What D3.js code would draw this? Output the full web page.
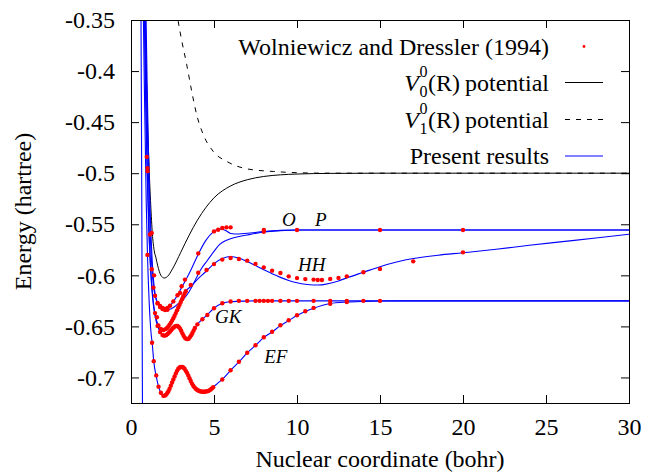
<!DOCTYPE html>
<html>
<head>
<meta charset="utf-8">
<script src="https://cdn.jsdelivr.net/npm/d3@7"></script>
<style>
  body { margin: 0; background: #fff; }
  text { font-family: "Liberation Serif", "Times New Roman", Times, "DejaVu Serif", serif; }
</style>
</head>
<body>
<div id="chart"></div>
<script>
// axis ticks
const xTicks = [0, 5, 10, 15, 20, 25, 30];
const yTicks = [-0.35, -0.4, -0.45, -0.5, -0.55, -0.6, -0.65, -0.7];

// V0^0(R) and V1^0(R) potentials  [R (bohr), E (hartree)]
const v0Curve = [[0.84,-0.34],[0.9,-0.385],[1.0,-0.4517],[1.1,-0.499],[1.2,-0.535],[1.3,-0.562],[1.4,-0.576],[1.5,-0.5826],[1.6,-0.59],[1.8,-0.6],[2.0,-0.6026],[2.2,-0.6011],[2.5,-0.5937],[3.0,-0.5774],[3.5,-0.5608],[4.0,-0.546],[4.5,-0.5338],[5.0,-0.5241],[6.0,-0.5125],[7.0,-0.5064],[8.0,-0.5032],[9.0,-0.5016],[10,-0.5008],[12,-0.5002],[15,-0.5],[30,-0.5]];
const v1Curve = [[2.75,-0.34],[2.85,-0.3517],[3.05,-0.3696],[3.36,-0.394],[3.66,-0.42],[3.96,-0.4429],[4.36,-0.4624],[4.96,-0.4788],[5.77,-0.4885],[6.97,-0.4957],[8.57,-0.4983],[10,-0.4995],[12,-0.5],[30,-0.5]];

// present results (blue lines)
const xLine = [[0.6,-0.34],[0.63,-0.45],[0.655,-0.55],[0.672,-0.65],[0.69,-0.73]];
const efLine = [[0.74,-0.34],[0.8,-0.41],[0.86,-0.47],[0.92,-0.53],[0.99,-0.578],[1.1,-0.628],[1.2,-0.655],[1.28,-0.667],[1.37,-0.684],[1.52,-0.699],[1.66,-0.709],[1.8,-0.715],[1.95,-0.718],[2.1,-0.717],[2.25,-0.7135],[2.4,-0.708],[2.55,-0.702],[2.7,-0.696],[2.85,-0.6915],[3.0,-0.6897],[3.15,-0.6903],[3.3,-0.6935],[3.45,-0.698],[3.6,-0.7035],[3.75,-0.708],[3.9,-0.711],[4.05,-0.7128],[4.2,-0.7137],[4.35,-0.714],[4.5,-0.7138],[4.65,-0.7132],[4.8,-0.7118],[4.95,-0.7095],[5.2,-0.706],[5.5,-0.7018],[6.0,-0.693],[6.5,-0.6848],[7.0,-0.676],[7.5,-0.6686],[8.0,-0.6608],[8.5,-0.6555],[9.0,-0.6492],[9.5,-0.6443],[10,-0.6394],[10.5,-0.6355],[11,-0.6322],[12,-0.6275],[13,-0.6261],[14,-0.6255],[15,-0.6252],[17,-0.625],[30,-0.625]];
const gkLine = [[0.8,-0.34],[0.86,-0.41],[0.92,-0.46],[0.97,-0.495],[1.05,-0.545],[1.15,-0.585],[1.3,-0.622],[1.45,-0.64],[1.6,-0.6495],[1.75,-0.6555],[1.9,-0.6585],[2.05,-0.659],[2.2,-0.6575],[2.35,-0.655],[2.5,-0.652],[2.65,-0.65],[2.8,-0.6495],[2.95,-0.652],[3.1,-0.657],[3.25,-0.6612],[3.4,-0.6625],[3.55,-0.6605],[3.7,-0.6565],[3.85,-0.6515],[4.0,-0.648],[4.3,-0.643],[4.6,-0.6385],[5.0,-0.6322],[5.5,-0.6274],[6.0,-0.6258],[7,-0.6252],[8,-0.625],[30,-0.625]];
const hhLine = [[0.82,-0.34],[0.88,-0.41],[0.95,-0.475],[1.0,-0.51],[1.1,-0.563],[1.2,-0.597],[1.35,-0.627],[1.5,-0.642],[1.65,-0.649],[1.8,-0.6525],[1.95,-0.6535],[2.1,-0.6525],[2.25,-0.65],[2.4,-0.6465],[2.55,-0.642],[2.7,-0.637],[2.85,-0.6315],[3.0,-0.626],[3.15,-0.6205],[3.3,-0.6155],[3.6,-0.611],[4.0,-0.604],[4.5,-0.5965],[5.0,-0.5885],[5.5,-0.5835],[6.0,-0.5815],[6.5,-0.583],[7.0,-0.5865],[7.5,-0.5905],[8.0,-0.5945],[8.5,-0.5985],[9.0,-0.602],[9.5,-0.605],[10,-0.6072],[10.5,-0.6088],[11,-0.6095],[11.5,-0.6093],[12,-0.6078],[12.5,-0.6055],[13,-0.6025],[14,-0.597],[15,-0.5915],[16,-0.587],[17,-0.5835],[18.5,-0.5803],[20,-0.5779],[22,-0.5745],[24,-0.5705],[26,-0.567],[28,-0.5635],[30,-0.5598]];
const oLine = [[0.86,-0.34],[0.93,-0.41],[1.0,-0.47],[1.08,-0.52],[1.15,-0.556],[1.25,-0.59],[1.35,-0.61],[1.45,-0.62],[1.6,-0.627],[1.8,-0.631],[2.0,-0.633],[2.2,-0.632],[2.4,-0.629],[2.6,-0.6245],[2.8,-0.6195],[3.0,-0.6135],[3.3,-0.6045],[3.6,-0.595],[4.0,-0.581],[4.5,-0.566],[4.96,-0.5575],[5.36,-0.5545],[5.7,-0.556],[6.0,-0.559],[6.5,-0.5595],[7,-0.5588],[8,-0.5572],[9,-0.556],[10,-0.5556],[30,-0.5556]];
const pLine = [[0.9,-0.34],[0.97,-0.41],[1.04,-0.47],[1.12,-0.52],[1.2,-0.558],[1.3,-0.592],[1.4,-0.612],[1.55,-0.625],[1.75,-0.631],[2.0,-0.634],[2.3,-0.6335],[2.6,-0.631],[2.9,-0.627],[3.2,-0.6225],[3.5,-0.616],[3.8,-0.607],[4.2,-0.5945],[4.6,-0.5855],[5.0,-0.5765],[5.36,-0.5695],[5.7,-0.566],[6.0,-0.5641],[7,-0.5605],[8,-0.5576],[9,-0.5562],[10,-0.5556],[30,-0.5556]];

// Wolniewicz and Dressler (1994) points
const efDots = [[0.99,-0.58],[1.27,-0.666],[1.37,-0.684],[1.52,-0.698],[1.66,-0.709],[1.8,-0.715],[1.95,-0.718],[2.025,-0.7178],[2.1,-0.717],[2.175,-0.7155],[2.25,-0.7135],[2.325,-0.711],[2.4,-0.708],[2.475,-0.705],[2.55,-0.702],[2.625,-0.699],[2.7,-0.696],[2.775,-0.6935],[2.85,-0.6915],[2.925,-0.6903],[3.0,-0.6897],[3.075,-0.6897],[3.15,-0.6903],[3.225,-0.6915],[3.3,-0.6935],[3.375,-0.6955],[3.45,-0.698],[3.525,-0.7008],[3.6,-0.7035],[3.675,-0.706],[3.75,-0.708],[3.825,-0.7097],[3.9,-0.711],[3.975,-0.712],[4.05,-0.7128],[4.125,-0.7133],[4.2,-0.7137],[4.275,-0.7139],[4.35,-0.714],[4.425,-0.714],[4.5,-0.7138],[4.575,-0.7136],[4.65,-0.7132],[4.725,-0.7126],[4.8,-0.7118],[4.875,-0.7107],[4.95,-0.7095],[5.5,-0.702],[6,-0.6929],[6.5,-0.6846],[7,-0.6758],[7.5,-0.6684],[8,-0.6606],[8.5,-0.6553],[9,-0.6489],[9.5,-0.644],[10,-0.6391],[10.5,-0.6352],[11,-0.6319],[12,-0.6278],[13,-0.6262]];
const gkDots = [[0.95,-0.484],[0.99,-0.495],[1.0,-0.498],[1.6,-0.6495],[1.75,-0.6555],[1.9,-0.6585],[1.975,-0.659],[2.05,-0.659],[2.125,-0.6585],[2.2,-0.6575],[2.275,-0.6563],[2.35,-0.655],[2.425,-0.6535],[2.5,-0.652],[2.575,-0.651],[2.65,-0.65],[2.725,-0.6495],[2.8,-0.6495],[2.875,-0.6505],[2.95,-0.652],[3.025,-0.6543],[3.1,-0.657],[3.175,-0.6593],[3.25,-0.6612],[3.325,-0.6622],[3.4,-0.6625],[3.475,-0.662],[3.55,-0.6605],[3.625,-0.6587],[3.7,-0.6565],[3.775,-0.654],[3.85,-0.6515],[4.0,-0.648],[4.3,-0.643],[4.6,-0.6389],[5.0,-0.6323],[5.5,-0.6274],[6.0,-0.6256],[6.5,-0.625],[7,-0.625],[7.5,-0.625],[7.75,-0.625],[8,-0.625],[8.25,-0.625],[8.5,-0.625],[9,-0.625],[9.5,-0.625],[10,-0.625],[11,-0.625],[12,-0.625],[13,-0.625],[14,-0.625],[15,-0.625]];
const hhDots = [[1.45,-0.637],[1.56,-0.641],[1.65,-0.649],[1.8,-0.6525],[1.95,-0.6535],[2.1,-0.6525],[2.175,-0.6515],[2.25,-0.65],[2.325,-0.6483],[2.4,-0.6465],[2.475,-0.6443],[2.55,-0.642],[2.625,-0.6395],[2.7,-0.637],[2.775,-0.6343],[2.85,-0.6315],[2.925,-0.6288],[3.0,-0.626],[3.075,-0.6233],[3.15,-0.6205],[3.225,-0.618],[3.3,-0.6155],[3.6,-0.6095],[4.55,-0.5948],[5.0,-0.589],[5.5,-0.5846],[6,-0.583],[6.5,-0.584],[7,-0.5856],[7.5,-0.5888],[8,-0.5922],[8.5,-0.5954],[9,-0.5977],[9.5,-0.601],[10,-0.6027],[10.5,-0.6037],[11,-0.6042],[11.25,-0.6045],[11.5,-0.6045],[12,-0.6035],[12.5,-0.6025],[13,-0.601],[14,-0.597],[15,-0.5937],[17,-0.5863],[20,-0.5775]];
const oDots = [[1.14,-0.56],[1.25,-0.594],[1.35,-0.612],[1.45,-0.62],[1.6,-0.627],[1.75,-0.630],[1.9,-0.632],[2.05,-0.633],[2.2,-0.632],[2.35,-0.6298],[2.55,-0.6255],[2.8,-0.6195],[2.95,-0.6172],[3.05,-0.6107],[3.25,-0.6042],[4.05,-0.5785],[5.0,-0.557],[5.25,-0.5553],[5.5,-0.5537],[5.75,-0.553],[6.0,-0.553],[8,-0.5556],[10,-0.5556],[15,-0.5556],[20,-0.5556]];
const pDots = [[1.25,-0.5586],[1.39,-0.6],[1.6,-0.6275],[1.75,-0.631],[1.9,-0.633],[2.05,-0.634],[2.2,-0.6338],[4.05,-0.5975],[8,-0.5574]];

// state labels  [name, R, E]
const stateLabels = [["O", 9.51, -0.5521], ["P", 11.43, -0.5521], ["HH", 10.89, -0.596], ["GK", 5.86, -0.6465], ["EF", 8.72, -0.6863]];

const legendLabels = ["Wolniewicz and Dressler (1994)", "potential", "potential", "Present results"];

function renderChart() {

    const margin = {top: 20, right: 19, bottom: 71, left: 131},
        width = 648 - margin.left - margin.right,
        height = 474 - margin.top - margin.bottom;

    const svg = d3.select("#chart").append("svg")
        .attr("width", 648)
        .attr("height", 474);

    const g = svg.append("g")
        .attr("transform", "translate(" + margin.left + "," + margin.top + ")");

    const x = d3.scaleLinear().domain([0, 30]).range([0, width]);
    const y = d3.scaleLinear().domain([-0.725, -0.35]).range([height, 0]);

    svg.append("defs").append("clipPath")
        .attr("id", "plot-clip")
        .append("rect")
        .attr("width", width)
        .attr("height", height);

    const plot = g.append("g").attr("clip-path", "url(#plot-clip)");

    const line = d3.line()
        .x(d => x(d[0]))
        .y(d => y(d[1]))
        .curve(d3.curveMonotoneX);

    plot.append("path")
        .attr("d", line(v0Curve))
        .attr("fill", "none")
        .attr("stroke", "black")
        .attr("stroke-width", 1);

    plot.append("path")
        .attr("d", line(v1Curve))
        .attr("fill", "none")
        .attr("stroke", "black")
        .attr("stroke-width", 1)
        .attr("stroke-dasharray", "5,6");

    [xLine, efLine, gkLine, hhLine, oLine, pLine].forEach(function (c) {
        plot.append("path")
            .attr("d", line(c))
            .attr("fill", "none")
            .attr("stroke", "#0000ff")
            .attr("stroke-width", 1.1);
    });

    const allDots = [].concat(efDots, gkDots, hhDots, oDots, pDots);
    plot.append("g")
        .selectAll("circle")
        .data(allDots)
        .enter()
        .append("circle")
        .attr("cx", d => x(d[0]))
        .attr("cy", d => y(d[1]))
        .attr("r", 2.2)
        .attr("fill", "#ff0000");

    g.append("g")
        .selectAll("text")
        .data(stateLabels)
        .enter()
        .append("text")
        .attr("x", d => x(d[1]))
        .attr("y", d => y(d[2]))
        .attr("text-anchor", "middle")
        .style("font-size", "19px")
        .style("font-style", "italic")
        .text(d => d[0]);

    // axes, ticks pointing inward on all four sides
    g.append("g")
        .attr("transform", "translate(0," + height + ")")
        .call(d3.axisBottom(x).tickValues(xTicks).tickSize(-8).tickPadding(15).tickFormat(d => d));
    g.append("g")
        .call(d3.axisLeft(y).tickValues(yTicks).tickSize(-8).tickPadding(16).tickFormat(d => String(d)));
    g.append("g")
        .attr("transform", "translate(" + width + ",0)")
        .call(d3.axisRight(y).tickValues(yTicks).tickSize(-8).tickFormat(""));
    g.append("g")
        .call(d3.axisTop(x).tickValues(xTicks).tickSize(-8).tickFormat(""));

    g.selectAll(".domain").remove();
    g.selectAll(".tick line").attr("stroke", "black");
    g.selectAll(".tick text")
        .attr("font-family", null)
        .style("font-family", "'Liberation Serif', 'Times New Roman', Times, 'DejaVu Serif', serif")
        .style("font-size", "24px")
        .attr("fill", "black");

    g.append("rect")
        .attr("x", 0.5)
        .attr("y", 0.5)
        .attr("width", width)
        .attr("height", height)
        .attr("fill", "none")
        .attr("stroke", "black")
        .attr("stroke-width", 1);

    svg.append("text")
        .attr("transform", "translate(31," + (margin.top + height / 2) + ") rotate(-90)")
        .attr("text-anchor", "middle")
        .style("font-size", "24px")
        .text("Energy (hartree)");

    svg.append("text")
        .attr("x", margin.left + width / 2)
        .attr("y", 467)
        .attr("text-anchor", "middle")
        .style("font-size", "24px")
        .text("Nuclear coordinate (bohr)");

    // legend
    const legendRight = 549, sampleX1 = 565, sampleX2 = 603;
    const rows = [46.5, 82.5, 119.5, 156];
    const leg = svg.append("g");

    rows.forEach(function (ry, i) {
        const t = leg.append("text")
            .attr("x", legendRight)
            .attr("y", ry + 8)
            .attr("text-anchor", "end")
            .style("font-size", "24px")
            .text(legendLabels[i]);
        if (i === 1 || i === 2) {
            const tw = t.node().getComputedTextLength();
            const prefix = leg.append("text")
                .attr("x", legendRight - tw - 5)
                .attr("y", ry + 8)
                .attr("text-anchor", "end")
                .style("font-size", "24px")
                .text("(R)");
            const pw = prefix.node().getComputedTextLength();
            const x0 = legendRight - tw - 5 - pw;
            leg.append("text")
                .attr("x", x0 - 0.5)
                .attr("y", ry - 6)
                .attr("text-anchor", "end")
                .style("font-size", "16px")
                .text("0");
            leg.append("text")
                .attr("x", x0 - 0.5)
                .attr("y", ry + 14)
                .attr("text-anchor", "end")
                .style("font-size", "16px")
                .text(i === 1 ? "0" : "1");
            leg.append("text")
                .attr("x", x0 - 9)
                .attr("y", ry + 8)
                .attr("text-anchor", "end")
                .style("font-size", "24px")
                .style("font-style", "italic")
                .text("V");
        }
    });

    leg.append("circle")
        .attr("cx", 584)
        .attr("cy", rows[0])
        .attr("r", 1.4)
        .attr("fill", "#ff0000");

    leg.append("line")
        .attr("x1", sampleX1).attr("x2", sampleX2)
        .attr("y1", rows[1]).attr("y2", rows[1])
        .attr("stroke", "black");

    leg.append("line")
        .attr("x1", sampleX1).attr("x2", sampleX2)
        .attr("y1", rows[2]).attr("y2", rows[2])
        .attr("stroke", "black")
        .attr("stroke-dasharray", "5,6");

    leg.append("line")
        .attr("x1", sampleX1).attr("x2", sampleX2)
        .attr("y1", rows[3]).attr("y2", rows[3])
        .attr("stroke", "#0000ff");
}

renderChart();
</script>
</body>
</html>
